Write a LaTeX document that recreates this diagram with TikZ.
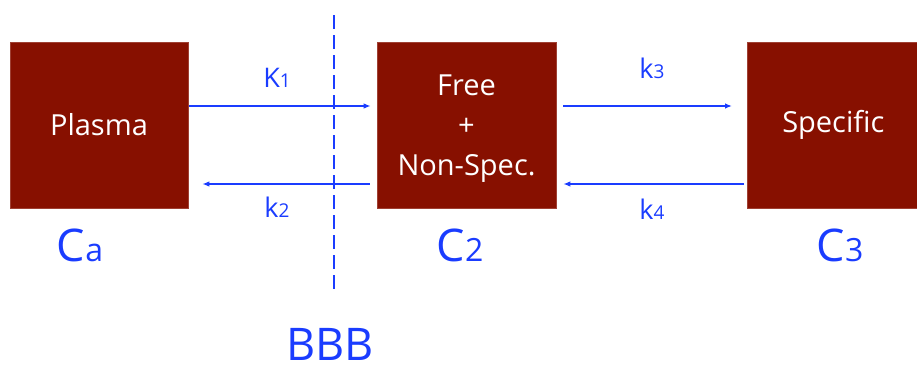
\documentclass[tikz,border=0pt]{standalone}
\usepackage{fontspec}
\setmainfont{Open Sans}
\usetikzlibrary{arrows.meta}
\definecolor{boxred}{HTML}{871000}
\definecolor{arrblue}{HTML}{1A3CFF}
\begin{document}
\begin{tikzpicture}[x=1pt,y=-1pt,
  compbox/.style={fill=boxred,draw=boxred!80!white,line width=0.6pt,inner sep=0pt,text=white,font=\fontsize{29}{40}\selectfont,align=center},
  flow/.style={draw=arrblue,line width=1.3pt,-{Latex[length=7pt,width=5.5pt]}},
  rate/.style={text=arrblue,font=\fontsize{27}{30}\selectfont,inner sep=0pt},
  conc/.style={text=arrblue,font=\fontsize{45}{50}\selectfont,inner sep=0pt}]
\useasboundingbox (0,0) rectangle (917,367);
\node[compbox,minimum width=178pt,minimum height=166pt] (plasma) at (99,125) {Plasma};
\node[compbox,minimum width=179pt,minimum height=166pt] (free) at (466.5,125) {};
\node[white,font=\fontsize{29}{40}\selectfont,align=center,inner sep=0pt] (freetxt) at (466.5,129) {Free\\+\\Non-Spec.};
\node[compbox,minimum width=172pt,minimum height=166pt,anchor=west] (spec) at (747,125) {Specific};
\coordinate (bbbtop) at (334,15);
\coordinate (bbbbot) at (334,290);
\draw[arrblue,line width=1.3pt,dash pattern=on 14pt off 6pt] (bbbtop) -- (bbbbot);
\draw[flow] ([xshift=1pt]plasma.east |- 0,106) -- ([xshift=-6pt]free.west |- 0,106);
\draw[flow] ([xshift=-7pt]free.west |- 0,184) -- ([xshift=14pt]plasma.east |- 0,184);
\draw[flow] ([xshift=7pt]free.east |- 0,106) -- ([xshift=-15pt]spec.west |- 0,106);
\draw[flow] ([xshift=-3pt]spec.west |- 0,184) -- ([xshift=7pt]free.east |- 0,184);
\node[rate] (k1) at (277,78) {K{\fontsize{19}{20}\selectfont 1}};
\node[rate] (k2) at (277,207) {k{\fontsize{19}{20}\selectfont 2}};
\node[rate] (k3) at (652,68) {k{\fontsize{19}{20}\selectfont 3}};
\node[rate] (k4) at (652,209) {k{\fontsize{19}{20}\selectfont 4}};
\node[conc] (ca) at (80,245) {C{\fontsize{32}{34}\selectfont a}};
\node[conc] (c2) at (460,245) {C{\fontsize{32}{34}\selectfont 2}};
\node[conc] (c3) at (840,245) {C{\fontsize{32}{34}\selectfont 3}};
\node[conc] (bbb) at (330,344) {BBB};
\end{tikzpicture}
\end{document}
